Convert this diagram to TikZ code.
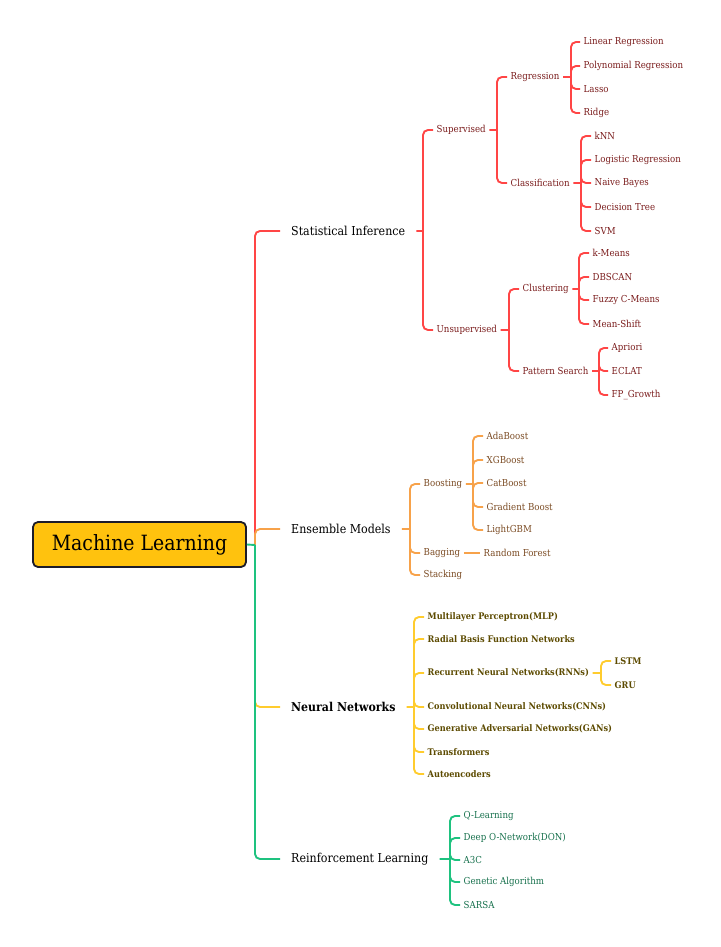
\documentclass[tikz,border=0pt]{standalone}
\usepackage{fontspec}
\setmainfont{DejaVu Serif Condensed}
\definecolor{linered}{HTML}{FF4545}
\definecolor{txtred}{HTML}{7A1C1C}
\definecolor{lineorange}{HTML}{F7A24A}
\definecolor{txtorange}{HTML}{7A4A22}
\definecolor{lineyellow}{HTML}{FFCC2E}
\definecolor{txtyellow}{HTML}{5C4A00}
\definecolor{linegreen}{HTML}{1EC27F}
\definecolor{txtgreen}{HTML}{16704C}
\definecolor{rootfill}{HTML}{FFC20E}
\definecolor{rootdraw}{HTML}{1C1C2A}
\begin{document}
\begin{tikzpicture}[
    x=1pt, y=-1pt,
    rootbox/.style={draw=rootdraw, fill=rootfill, line width=1.8pt, rounded corners=5pt,
                    minimum width=213pt, minimum height=45pt, font=\fontsize{21}{24}\selectfont},
    topic/.style={anchor=west, inner xsep=11pt, font=\fontsize{12.3}{14}\selectfont},
    leaf/.style={anchor=west, inner xsep=3.5pt, font=\fontsize{9.6}{11}\selectfont},
    rleaf/.style={leaf, text=txtred},
    oleaf/.style={leaf, text=txtorange},
    yleaf/.style={leaf, text=txtyellow, font=\fontsize{9.1}{11}\selectfont\bfseries},
    gleaf/.style={leaf, text=txtgreen},
    redl/.style={draw=linered, line width=1.9pt, rounded corners=5pt},
    orgl/.style={draw=lineorange, line width=1.9pt, rounded corners=5pt},
    yell/.style={draw=lineyellow, line width=1.9pt, rounded corners=5pt},
    grnl/.style={draw=linegreen, line width=1.9pt, rounded corners=5pt}
]
\useasboundingbox (0,0) rectangle (720,947);

\node[rootbox] (root) at (139.5,544.5) {Machine Learning};
\coordinate (trunk) at (255,545);

\node[topic] (si) at (280,231) {Statistical Inference};
\node[topic] (em) at (280,529) {Ensemble Models};
\node[topic, font=\fontsize{12.2}{14}\selectfont\bfseries] (nn) at (280,707) {Neural Networks};
\node[topic] (rl) at (280,859) {Reinforcement Learning};

\draw[redl] (trunk) |- (si.west);
\draw[orgl] (trunk) |- (em.west);
\draw[yell] (trunk) |- (nn.west);
\draw[grnl] (trunk) |- (rl.west);
\draw[grnl] (root.east) -- (trunk);

% statistical inference
\coordinate (b-si) at (423,231);
\node[rleaf] (sup) at (433,130) {Supervised};
\node[rleaf] (uns) at (433,330) {Unsupervised};
\draw[redl] (si.east) -- (b-si) (b-si) |- (sup.west) (b-si) |- (uns.west);

\coordinate (b-sup) at (497,130);
\node[rleaf] (reg) at (507,77) {Regression};
\node[rleaf] (cls) at (507,183) {Classification};
\draw[redl] (sup.east) -- (b-sup) (b-sup) |- (reg.west) (b-sup) |- (cls.west);

\coordinate (b-reg) at (571,77);
\node[rleaf] (lin) at (580,42) {Linear Regression};
\node[rleaf] (poly) at (580,66) {Polynomial Regression};
\node[rleaf] (lasso) at (580,89) {Lasso};
\node[rleaf] (ridge) at (580,113) {Ridge};
\draw[redl] (reg.east) -- (b-reg) (b-reg) |- (lin.west) (b-reg) |- (poly.west)
    (b-reg) |- (lasso.west) (b-reg) |- (ridge.west);

\coordinate (b-cls) at (581,183);
\node[rleaf] (knn) at (591,136) {kNN};
\node[rleaf] (logr) at (591,160) {Logistic Regression};
\node[rleaf] (nb) at (591,183) {Naive Bayes};
\node[rleaf] (dt) at (591,207) {Decision Tree};
\node[rleaf] (svm) at (591,231) {SVM};
\draw[redl] (cls.east) -- (b-cls) (b-cls) |- (knn.west) (b-cls) |- (logr.west)
    (b-cls) |- (nb.west) (b-cls) |- (dt.west) (b-cls) |- (svm.west);

\coordinate (b-uns) at (509,330);
\node[rleaf] (clu) at (519,289) {Clustering};
\node[rleaf] (pat) at (519,371) {Pattern Search};
\draw[redl] (uns.east) -- (b-uns) (b-uns) |- (clu.west) (b-uns) |- (pat.west);

\coordinate (b-clu) at (579,289);
\node[rleaf] (km) at (589,253) {k-Means};
\node[rleaf] (dbs) at (589,277) {DBSCAN};
\node[rleaf] (fcm) at (589,300) {Fuzzy C-Means};
\node[rleaf] (ms) at (589,324) {Mean-Shift};
\draw[redl] (clu.east) -- (b-clu) (b-clu) |- (km.west) (b-clu) |- (dbs.west)
    (b-clu) |- (fcm.west) (b-clu) |- (ms.west);

\coordinate (b-pat) at (599,371);
\node[rleaf] (apr) at (608,348) {Apriori};
\node[rleaf] (ecl) at (608,371) {ECLAT};
\node[rleaf] (fpg) at (608,395) {FP\_Growth};
\draw[redl] (pat.east) -- (b-pat) (b-pat) |- (apr.west) (b-pat) |- (ecl.west) (b-pat) |- (fpg.west);

% ensemble models
\coordinate (b-em) at (410,529);
\node[oleaf] (boost) at (420,484) {Boosting};
\node[oleaf] (bag) at (420,553) {Bagging};
\node[oleaf] (stack) at (420,575) {Stacking};
\draw[orgl] (em.east) -- (b-em) (b-em) |- (boost.west) (b-em) |- (bag.west) (b-em) |- (stack.west);

\coordinate (b-boost) at (473,484);
\node[oleaf] (ada) at (483,436) {AdaBoost};
\node[oleaf] (xgb) at (483,460) {XGBoost};
\node[oleaf] (cat) at (483,483) {CatBoost};
\node[oleaf] (gb) at (483,507) {Gradient Boost};
\node[oleaf] (lgbm) at (483,530) {LightGBM};
\draw[orgl] (boost.east) -- (b-boost) (b-boost) |- (ada.west) (b-boost) |- (xgb.west)
    (b-boost) |- (cat.west) (b-boost) |- (gb.west) (b-boost) |- (lgbm.west);

\node[oleaf] (rf) at (480,553) {Random Forest};
\draw[orgl] (bag.east) -- (rf.west);

% neural networks
\coordinate (b-nn) at (414,707);
\node[yleaf] (mlp) at (424,617) {Multilayer Perceptron(MLP)};
\node[yleaf] (rbf) at (424,639) {Radial Basis Function Networks};
\node[yleaf] (rnn) at (424,673) {Recurrent Neural Networks(RNNs)};
\node[yleaf] (cnn) at (424,707) {Convolutional Neural Networks(CNNs)};
\node[yleaf] (gan) at (424,729) {Generative Adversarial Networks(GANs)};
\node[yleaf] (trf) at (424,752) {Transformers};
\node[yleaf] (ae) at (424,774) {Autoencoders};
\draw[yell] (nn.east) -- (b-nn) (b-nn) |- (mlp.west) (b-nn) |- (rbf.west) (b-nn) |- (rnn.west)
    (b-nn) |- (cnn.west) (b-nn) |- (gan.west) (b-nn) |- (trf.west) (b-nn) |- (ae.west);

\coordinate (b-rnn) at (601,673);
\node[yleaf] (lstm) at (611,661) {LSTM};
\node[yleaf] (gru) at (611,685) {GRU};
\draw[yell] (rnn.east) -- (b-rnn) (b-rnn) |- (lstm.west) (b-rnn) |- (gru.west);

% reinforcement learning
\coordinate (b-rl) at (450,859);
\node[gleaf] (ql) at (460,816) {Q-Learning};
\node[gleaf] (dqn) at (460,838) {Deep O-Network(DON)};
\node[gleaf] (a3c) at (460,860) {A3C};
\node[gleaf] (ga) at (460,882) {Genetic Algorithm};
\node[gleaf] (sarsa) at (460,905) {SARSA};
\draw[grnl] (rl.east) -- (b-rl) (b-rl) |- (ql.west) (b-rl) |- (dqn.west) (b-rl) |- (a3c.west)
    (b-rl) |- (ga.west) (b-rl) |- (sarsa.west);

\end{tikzpicture}
\end{document}
